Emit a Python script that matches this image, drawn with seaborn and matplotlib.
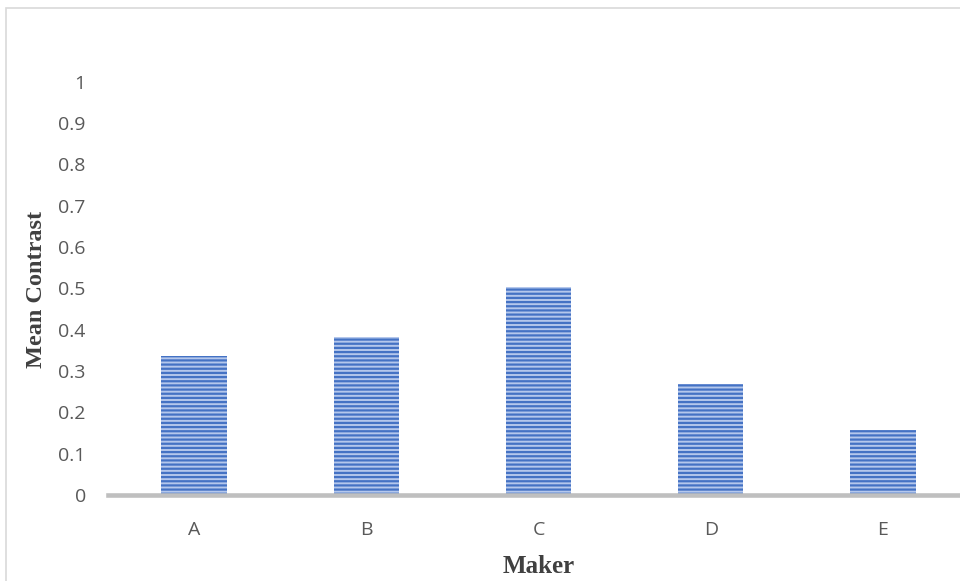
import seaborn as sns
import matplotlib.pyplot as plt
from matplotlib.patches import Rectangle
import pandas as pd

# Mean contrast per maker
makers = ['A', 'B', 'C', 'D', 'E']
mean_contrast = [0.336, 0.382, 0.502, 0.268, 0.157]
y_ticks = [0, 0.1, 0.2, 0.3, 0.4, 0.5, 0.6, 0.7, 0.8, 0.9, 1]
y_tick_labels = ['0', '0.1', '0.2', '0.3', '0.4', '0.5', '0.6', '0.7', '0.8', '0.9', '1']

df = pd.DataFrame({'Maker': makers, 'Mean Contrast': mean_contrast})

sns.set_style("white")
plt.rcParams['font.family'] = ['Open Sans', 'DejaVu Sans']
plt.rcParams['hatch.linewidth'] = 1.6
plt.rcParams['hatch.color'] = '#4472c4'

fig = plt.figure(figsize=(9.6, 5.81), dpi=100)
ax = fig.add_axes([108 / 960, (581 - 495) / 581, 861 / 960, 430 / 581])

ax = sns.barplot(data=df, x='Maker', y='Mean Contrast', color='#b4c7ec',
                 width=0.38, ax=ax, saturation=1)
for bar in ax.patches:
    bar.set_hatch('----')
    bar.set_edgecolor('#4472c4')
    bar.set_linewidth(0)

ax.set_ylim(0, 1.04)
ax.set_xlim(-0.5, 4.5)
ax.set_yticks(y_ticks)
ax.set_yticklabels(y_tick_labels)
ax.tick_params(axis='both', colors='#595959', labelsize=14, length=0)
ax.tick_params(axis='y', pad=16)
ax.tick_params(axis='x', pad=19)

sns.despine(ax=ax, left=True, top=True, right=True)
ax.spines['bottom'].set_color('#bfbfbf')
ax.spines['bottom'].set_linewidth(3.3)

ax.set_xlabel('Maker', fontfamily='Liberation Serif', fontweight='bold',
              fontsize=18, color='#404040', labelpad=11)
ax.set_ylabel('Mean Contrast', fontfamily='Liberation Serif', fontweight='bold',
              fontsize=17.5, color='#404040', labelpad=8)
ax.yaxis.label.set_y(0.479)

# Chart area border
fig.patches.append(Rectangle((6 / 960, -0.1), 1.1, (581 - 8) / 581 + 0.1,
                             transform=fig.transFigure, fill=False,
                             edgecolor='#d9d9d9', linewidth=1.2, zorder=-1))

fig.savefig('out.png', dpi=100)
